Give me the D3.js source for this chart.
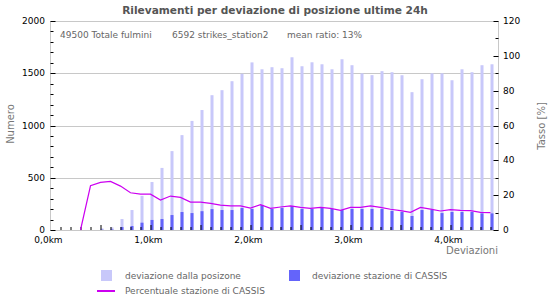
<!doctype html>
<html>
<head>
<meta charset="utf-8">
<script src="https://d3js.org/d3.v7.min.js"></script>
<style>
  body { margin: 0; background: #fff; }
  text { font-family: "DejaVu Sans", sans-serif; }
</style>
</head>
<body>
<script>
// distance bins (km)
var distances = [0.0, 0.1, 0.2, 0.3, 0.4, 0.5, 0.6, 0.7, 0.8, 0.9,
                 1.0, 1.1, 1.2, 1.3, 1.4, 1.5, 1.6, 1.7, 1.8, 1.9,
                 2.0, 2.1, 2.2, 2.3, 2.4, 2.5, 2.6, 2.7, 2.8, 2.9,
                 3.0, 3.1, 3.2, 3.3, 3.4, 3.5, 3.6, 3.7, 3.8, 3.9,
                 4.0, 4.1, 4.2, 4.3, 4.4];
// deviazione dalla posizone
var allStrikes = [0, 0, 0, 0, 0, 15, 25, 105, 191, 327,
                  459, 594, 755, 908, 1044, 1148, 1290, 1338, 1424, 1495,
                  1604, 1538, 1558, 1548, 1653, 1567, 1605, 1586, 1538, 1634,
                  1577, 1499, 1482, 1520, 1510, 1481, 1319, 1443, 1499, 1499,
                  1433, 1538, 1510, 1577, 1586];
// deviazione stazione di CASSIS
var stationStrikes = [0, 0, 0, 0, 0, 3, 5, 28, 38, 70,
                      96, 105, 143, 172, 162, 180, 200, 191, 191, 210,
                      201, 239, 201, 210, 229, 201, 201, 210, 201, 191,
                      201, 201, 201, 201, 182, 172, 134, 191, 191, 162,
                      172, 172, 172, 159, 159];
// Percentuale stazione di CASSIS
var ratio = [null, null, null, 0, 25.4, 27.3, 27.9, 25.2, 21.4, 20.6,
             20.6, 17.2, 19.5, 18.7, 16.0, 16.0, 15.3, 14.3, 13.8, 13.8,
             12.6, 14.5, 12.4, 13.2, 13.8, 13.0, 12.4, 13.0, 12.4, 11.3,
             13.0, 13.0, 13.8, 13.0, 11.9, 11.1, 10.1, 13.0, 12.0, 10.9,
             11.7, 11.3, 11.1, 10.1, 10.0];
var xTickLabels = ["0,0km", "1,0km", "2,0km", "3,0km", "4,0km"];
var xTickValues = [0, 1, 2, 3, 4];
var leftTicks = [0, 500, 1000, 1500, 2000];
var rightTicks = [0, 20, 40, 60, 80, 100, 120];

var W = 550, H = 300;
var plot = {x0: 50.5, x1: 498.5, y0: 21, y1: 230};

var svg = d3.select("body").append("svg")
    .attr("width", W).attr("height", H);

var x = d3.scaleLinear().domain([0, 4.48]).range([plot.x0, plot.x1]);
var y = d3.scaleLinear().domain([0, 2000]).range([plot.y1, plot.y0]);
var y2 = d3.scaleLinear().domain([0, 120]).range([plot.y1, plot.y0]);

// title
svg.append("text")
   .attr("x", 275).attr("y", 14)
   .attr("text-anchor", "middle")
   .attr("font-size", "10.6px").attr("font-weight", "bold")
   .attr("fill", "#555")
   .text("Rilevamenti per deviazione di posizione ultime 24h");

// grid
svg.append("g").selectAll("line")
   .data(leftTicks.slice(1, 4))
   .enter().append("line")
   .attr("x1", plot.x0).attr("x2", plot.x1)
   .attr("y1", function(d) { return Math.round(y(d)) + 0.5; })
   .attr("y2", function(d) { return Math.round(y(d)) + 0.5; })
   .attr("stroke", "#c8c8c8");

svg.append("rect")
   .attr("x", plot.x0).attr("y", plot.y0 + 0.5)
   .attr("width", plot.x1 - plot.x0).attr("height", plot.y1 - plot.y0)
   .attr("fill", "none").attr("stroke", "#c8c8c8");

// info text
var info = [["49500 Totale fulmini", 60], ["6592 strikes_station2", 172], ["mean ratio: 13%", 287]];
svg.append("g").selectAll("text")
   .data(info).enter().append("text")
   .attr("x", function(d) { return d[1]; })
   .attr("y", 38)
   .attr("font-size", "9px").attr("fill", "#666")
   .text(function(d) { return d[0]; });

// bars
var bw = 3;
svg.append("g").selectAll("rect")
   .data(distances).enter().append("rect")
   .attr("x", function(d) { return x(d); })
   .attr("y", function(d, i) { return y(allStrikes[i]); })
   .attr("width", bw)
   .attr("height", function(d, i) { return plot.y1 - y(allStrikes[i]); })
   .attr("fill", "#c8c8fa");

svg.append("g").selectAll("rect")
   .data(distances).enter().append("rect")
   .attr("x", function(d) { return x(d); })
   .attr("y", function(d, i) { return y(stationStrikes[i]); })
   .attr("width", bw)
   .attr("height", function(d, i) { return plot.y1 - y(stationStrikes[i]); })
   .attr("fill", "#6464fa");

// x ticks (inward)
svg.append("g").selectAll("line")
   .data(distances.slice(1)).enter().append("line")
   .attr("x1", function(d) { return x(d) + 0.5; })
   .attr("x2", function(d) { return x(d) + 0.5; })
   .attr("y1", plot.y1)
   .attr("y2", function(d) { return Math.round(d * 10) % 5 === 0 ? plot.y1 - 5 : plot.y1 - 3; })
   .attr("stroke", "#000");

// left ticks (inward)
svg.append("g").selectAll("line")
   .data(d3.range(0, 2001, 100)).enter().append("line")
   .attr("x1", plot.x0).attr("x2", function(d) { return d % 500 === 0 ? plot.x0 + 5 : plot.x0 + 3; })
   .attr("y1", function(d) { return Math.round(y(d)) + 0.5; })
   .attr("y2", function(d) { return Math.round(y(d)) + 0.5; })
   .attr("stroke", "#000");

// right ticks (inward)
svg.append("g").selectAll("line")
   .data(d3.range(0, 121, 10)).enter().append("line")
   .attr("x1", plot.x1).attr("x2", function(d) { return d % 20 === 0 ? plot.x1 - 5 : plot.x1 - 3; })
   .attr("y1", function(d) { return Math.round(y2(d)) + 0.5; })
   .attr("y2", function(d) { return Math.round(y2(d)) + 0.5; })
   .attr("stroke", "#000");

// line
var line = d3.line()
    .defined(function(d) { return d != null; })
    .x(function(d, i) { return x(distances[i]); })
    .y(function(d) { return y2(d); });
svg.append("path")
   .datum(ratio)
   .attr("d", line)
   .attr("fill", "none")
   .attr("stroke", "#cc00f0")
   .attr("stroke-width", 1.2);

// tick labels
svg.append("g").selectAll("text")
   .data(leftTicks).enter().append("text")
   .attr("x", 45).attr("y", function(d) { return y(d) + 3; })
   .attr("text-anchor", "end").attr("font-size", "9px").attr("fill", "#000")
   .text(function(d) { return d; });

svg.append("g").selectAll("text")
   .data(rightTicks).enter().append("text")
   .attr("x", 503).attr("y", function(d) { return y2(d) + 3; })
   .attr("font-size", "9px").attr("fill", "#000")
   .text(function(d) { return d; });

svg.append("g").selectAll("text")
   .data(xTickValues).enter().append("text")
   .attr("x", function(d) { return x(d) - 2; })
   .attr("y", 243)
   .attr("text-anchor", "middle").attr("font-size", "9px").attr("fill", "#000")
   .text(function(d, i) { return xTickLabels[i]; });

// axis titles
svg.append("text")
   .attr("transform", "translate(14,124) rotate(-90)")
   .attr("text-anchor", "middle").attr("font-size", "10px").attr("fill", "#777")
   .text("Numero");
svg.append("text")
   .attr("transform", "translate(545,126) rotate(-90)")
   .attr("text-anchor", "middle").attr("font-size", "10px").attr("fill", "#777")
   .text("Tasso [%]");
svg.append("text")
   .attr("x", 498).attr("y", 254)
   .attr("text-anchor", "end").attr("font-size", "10px").attr("fill", "#777")
   .text("Deviazioni");

// legend
var lg = svg.append("g");
lg.append("rect").attr("x", 101).attr("y", 270).attr("width", 11).attr("height", 11).attr("fill", "#c8c8fa");
lg.append("text").attr("x", 125).attr("y", 279).attr("font-size", "9px").attr("fill", "#666").text("deviazione dalla posizone");
lg.append("rect").attr("x", 289).attr("y", 270).attr("width", 11).attr("height", 11).attr("fill", "#6464fa");
lg.append("text").attr("x", 312).attr("y", 279).attr("font-size", "9px").attr("fill", "#666").text("deviazione stazione di CASSIS");
lg.append("line").attr("x1", 97).attr("x2", 115).attr("y1", 291).attr("y2", 291).attr("stroke", "#cc00f0").attr("stroke-width", 2);
lg.append("text").attr("x", 125).attr("y", 294).attr("font-size", "9px").attr("fill", "#666").text("Percentuale stazione di CASSIS");
</script>
</body>
</html>
